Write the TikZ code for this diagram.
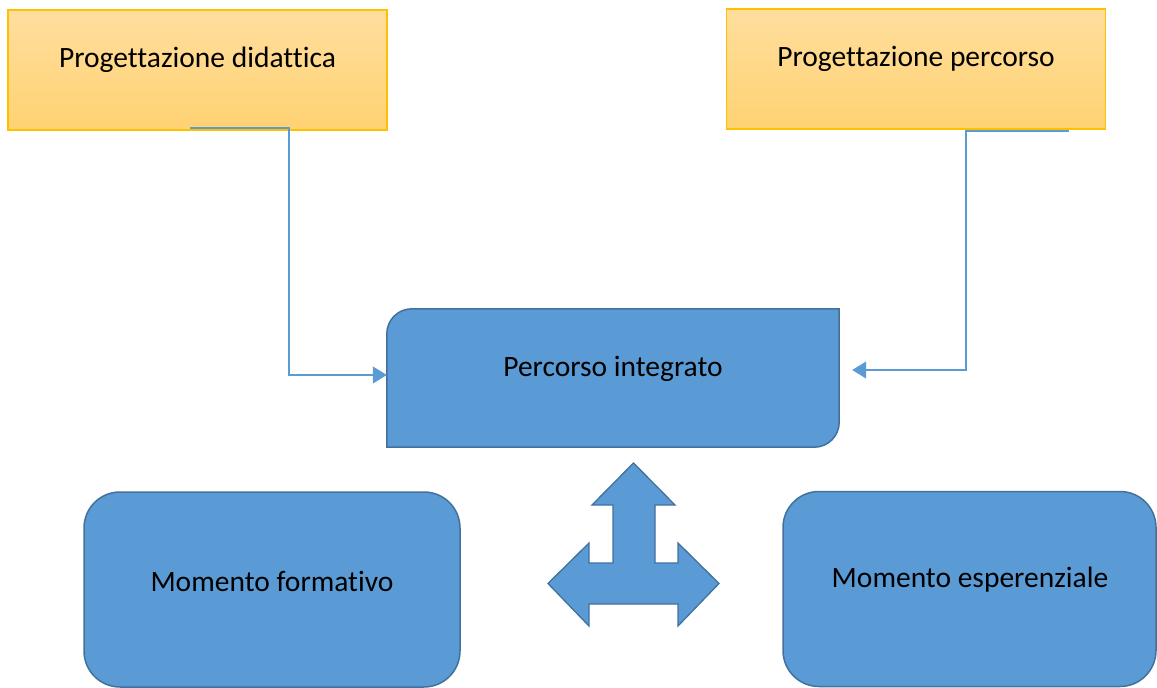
\documentclass[tikz,border=0pt]{standalone}
\usepackage{fontspec}
\setmainfont{Carlito}[Ligatures={NoCommon}]
\usetikzlibrary{arrows.meta}
\definecolor{boxblue}{HTML}{5B9BD5}
\definecolor{boxedge}{HTML}{41719C}
\definecolor{goldedge}{HTML}{FFC000}
\definecolor{goldtop}{HTML}{FFDE9E}
\definecolor{goldbot}{HTML}{FFD272}
\definecolor{connblue}{HTML}{5B9BD5}
\tikzset{
  goldbox/.style={draw=goldedge, line width=1.2pt, top color=goldtop, bottom color=goldbot, minimum width=379pt, minimum height=120pt, inner sep=0pt},
  bluebox/.style={draw=boxedge, line width=1.5pt, fill=boxblue},
  roundbox/.style={bluebox, rounded corners=36pt, minimum width=#1, minimum height=195pt, inner sep=0pt},
  frame/.style={minimum width=452pt, minimum height=138pt, inner sep=0pt},
  lbl/.style={font=\fontsize{29.5}{34}\selectfont, text=black, inner sep=0pt},
  conn/.style={draw=connblue, line width=1.1pt, -{Triangle[length=14pt,width=17pt]}},
}
\begin{document}
\begin{tikzpicture}[x=1pt,y=1pt]
\useasboundingbox (0,0) rectangle (1157,-688);
% top boxes
\node[goldbox] (pd) at (197.5,-70) {};
\node[lbl] (pdt) at (197.5,-60) {Progettazione didattica};
\node[goldbox] (pp) at (916,-69) {};
\node[lbl] (ppt) at (916,-59) {Progettazione percorso};
% central box
\node[frame] (pi) at (613,-378) {};
\draw[bluebox] (pi.south west) -- ([yshift=-25pt]pi.north west)
  arc[start angle=180, end angle=90, radius=25pt] -- (pi.north east)
  -- ([yshift=25pt]pi.south east)
  arc[start angle=0, end angle=-90, radius=25pt] -- cycle;
\node[lbl] (pit) at (613,-369) {Percorso integrato};
% bottom boxes
\node[roundbox=376pt] (mf) at (272,-589.5) {};
\node[lbl] (mft) at (272,-581) {Momento formativo};
\node[roundbox=373pt] (me) at (969.5,-589) {};
\node[lbl] (met) at (970,-580) {Momento esperenziale};
% connectors
\coordinate (c1) at (190,-128);
\coordinate (c2) at (1069,-131);
\draw[conn] (c1) -- (289,-128) |- ([yshift=3pt]pi.west);
\draw[conn] (c2) -- (966,-131) |- ([xshift=13pt,yshift=8pt]pi.east);
% three-way arrow
\draw[bluebox, line width=1.3pt, line join=miter]
  (633.5,-463) -- (675,-505) -- (655,-505) -- (655,-563) -- (678,-563)
  -- (678,-543) -- (719,-583.5) -- (678,-626) -- (678,-604) -- (589,-604)
  -- (589,-626) -- (548,-583.5) -- (589,-543) -- (589,-563) -- (613,-563)
  -- (613,-505) -- (592,-505) -- cycle;
\end{tikzpicture}
\end{document}
